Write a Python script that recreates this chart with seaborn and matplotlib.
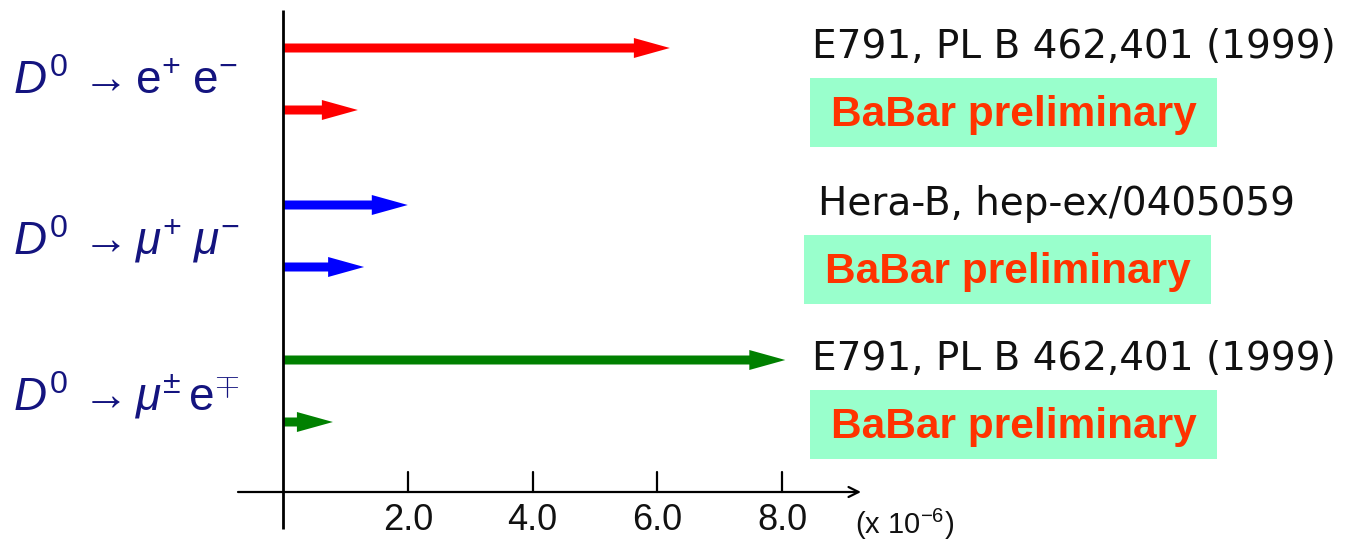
import matplotlib
matplotlib.use("Agg")
import matplotlib.pyplot as plt
import seaborn as sns
import pandas as pd

# ---------------- data ----------------
channels = [r'$D^{0}\,\rightarrow\mathrm{e}^{+}\;\mathrm{e}^{-}$',
            r'$D^{0}\,\rightarrow\mu^{+}\;\mu^{-}$',
            r'$D^{0}\,\rightarrow\mu^{\pm}\,\mathrm{e}^{\mp}$']
experiments = ["E791, PL B 462,401 (1999)", "BaBar preliminary",
               "Hera-B, hep-ex/0405059", "BaBar preliminary",
               "E791, PL B 462,401 (1999)", "BaBar preliminary"]
limits = [6.2, 1.2, 2.0, 1.3, 8.05, 0.8]          # upper limits (x 10^-6)
channel_of = [0, 0, 1, 1, 2, 2]
is_babar = [False, True, False, True, False, True]
tick_values = [2.0, 4.0, 6.0, 8.0]
tick_labels = ["2.0", "4.0", "6.0", "8.0"]
unit_label = r'(x 10$^{\mathregular{-6}}$)'

df = pd.DataFrame({"experiment": experiments, "limit": limits,
                   "channel": channel_of, "babar": is_babar})

# ---------------- style / layout ----------------
sns.set_theme(style="white")
plt.rcParams['font.family'] = ['Liberation Sans', 'DejaVu Sans']
plt.rcParams['mathtext.fontset'] = 'custom'
plt.rcParams['mathtext.rm'] = 'Liberation Sans'
plt.rcParams['mathtext.it'] = 'Liberation Sans:italic'
plt.rcParams['mathtext.bf'] = 'Liberation Sans:bold'

W, H = 1354, 541
X0, PXU = 283.0, 62.4          # pixel of value 0, pixels per unit


def px(x):
    return (x - X0) / PXU


chan_colors = ['#ff0000', '#0000ff', '#008000']
navy = '#14147f'
box_color = '#99ffcc'
babar_color = '#ff3300'

group_top = [48, 205, 360]
pair_gap = 62
row_y = [group_top[c] + (pair_gap if b else 0) for c, b in zip(df.channel, df.babar)]
label_y = [82, 239, 395]

fig = plt.figure(figsize=(W / 100, H / 100), dpi=100)
ax = fig.add_axes([0, 0, 1, 1])
ax.set_xlim(px(0), px(W))
ax.set_ylim(H, 0)
ax.axis('off')

# arrows (limits)
for lim, y, c in zip(df.limit, row_y, df.channel):
    ax.arrow(0, y, lim, 0, width=9, head_width=20, head_length=36 / PXU,
             length_includes_head=True, color=chan_colors[c], lw=0, zorder=3)

# vertical axis at 0
ax.plot([0, 0], [10, 529], color='black', lw=2.0, zorder=4, solid_capstyle='butt')
# horizontal axis with open arrow
ax.annotate('', xy=(px(861), 492), xytext=(px(238), 492),
            arrowprops=dict(arrowstyle='->', lw=1.6, color='black',
                            mutation_scale=18, shrinkA=0, shrinkB=0))
for tv, tl in zip(tick_values, tick_labels):
    ax.plot([tv, tv], [472, 492], color='black', lw=1.6)
    ax.text(tv, 521, tl, ha='center', va='center', fontsize=26, color='#111111')
ax.text(px(855), 524, unit_label, ha='left', va='center', fontsize=21, color='#111111')

# channel labels
for lab, y in zip(channels, label_y):
    ax.text(px(13), y, lab, ha='left', va='center', fontsize=33, color=navy)

# experiment labels
box_x = {0: 810, 1: 804, 2: 810}
for exp, y, c, b in zip(df.experiment, row_y, df.channel, df.babar):
    if b:
        x0 = box_x[c]
        yc = y + 3
        ax.add_patch(plt.Rectangle((px(x0), yc - 35), 407 / PXU, 69,
                                   facecolor=box_color, edgecolor='none', zorder=1))
        ax.text(px(x0 + 203.5), yc + 2, exp, ha='center', va='center', fontsize=30.5,
                fontweight='bold', color=babar_color, zorder=2)
    else:
        ax.text(px(812 if c != 1 else 818), y - 1, exp, ha='left', va='center',
                fontsize=28, color='#111111', family=['DejaVu Sans'])

fig.savefig("out.png", dpi=100, facecolor='white')
